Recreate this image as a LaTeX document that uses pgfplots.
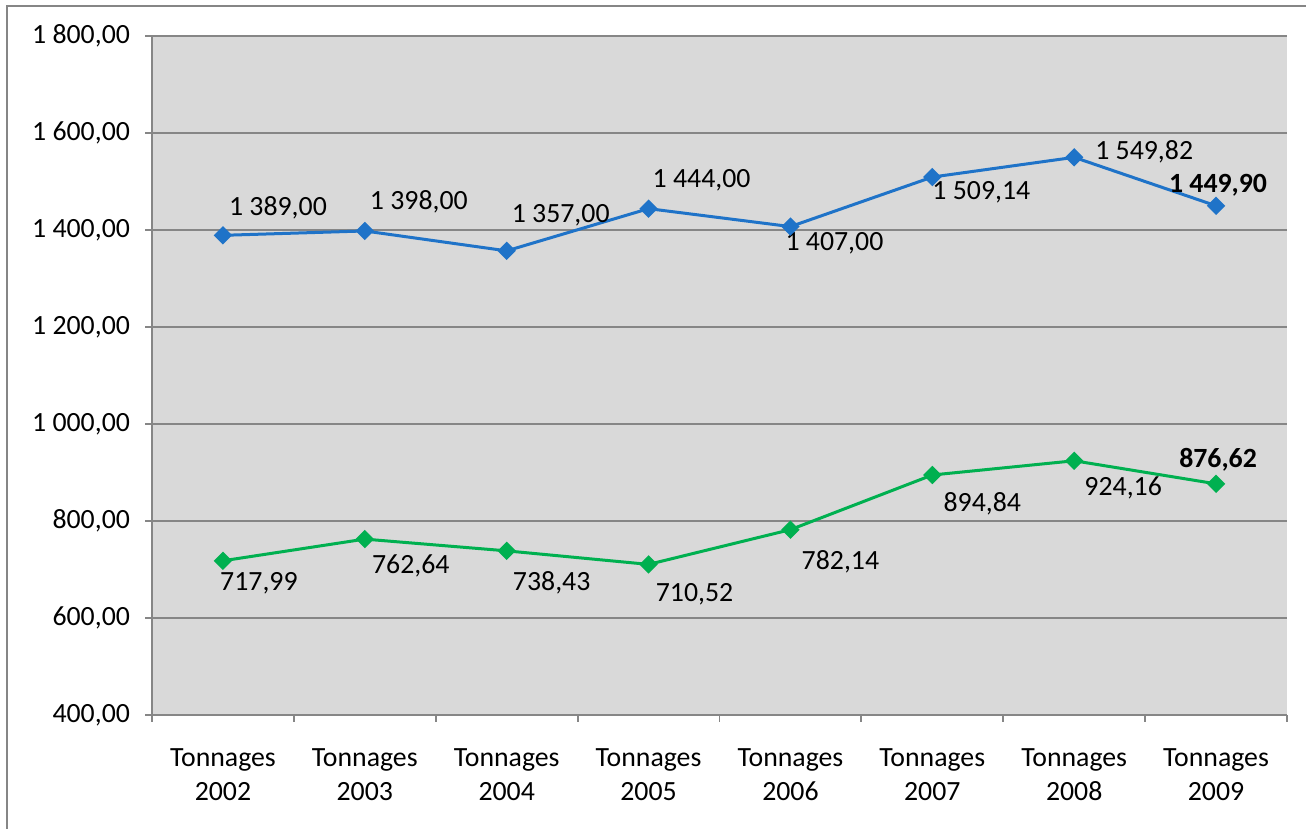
\documentclass[border=0pt]{standalone}
\usepackage{fontspec}
\setmainfont{Carlito}
\usepackage{pgfplots}
\pgfplotsset{compat=1.18}
\definecolor{bgray}{HTML}{D9D9D9}
\definecolor{lgray}{HTML}{868686}
\definecolor{sblue}{HTML}{1F73C8}
\definecolor{sgreen}{HTML}{00B050}
\newcommand{\fs}{\fontsize{13.9}{16.6}\selectfont}
\begin{document}
\begin{tikzpicture}[font=\fs]
\useasboundingbox (0,0) rectangle (653pt,414.5pt);
\draw[lgray, line width=1pt] (3.5pt,0) -- (3.5pt,411.5pt) -- (653pt,411.5pt);
\begin{axis}[
  at={(76pt,57pt)}, anchor=south west,
  scale only axis, width=567.5pt, height=339.5pt,
  xmin=-0.5, xmax=7.5, ymin=400, ymax=1800,
  axis background/.style={fill=bgray},
  axis x line*=bottom, axis y line*=left,
  axis line style={lgray, line width=0.9pt, -},
  xtick={0,...,7},
  xticklabels={{Tonnages\\2002},{Tonnages\\2003},{Tonnages\\2004},{Tonnages\\2005},{Tonnages\\2006},{Tonnages\\2007},{Tonnages\\2008},{Tonnages\\2009}},
  xticklabel style={align=center, font=\fs, yshift=-10pt},
  major x tick style={draw=none},
  minor xtick={-0.5,0.5,...,7.5},
  minor tick length=3.5pt,
  minor x tick style={lgray, line width=0.9pt},
  ytick={400,600,...,1800},
  yticklabels={{400,00},{600,00},{800,00},{1 000,00},{1 200,00},{1 400,00},{1 600,00},{1 800,00}},
  yticklabel style={font=\fs, xshift=-4pt},
  major tick length=3.5pt,
  tick align=outside,
  major y tick style={lgray, line width=0.9pt},
  ymajorgrids, grid style={lgray, line width=0.9pt},
  clip=false,
]
\addplot[sblue, line width=1.5pt, mark=square*, mark size=2.5pt, mark options={rotate=45, fill=sblue, draw=sblue}]
coordinates {(0,1389) (1,1398) (2,1357) (3,1444) (4,1407) (5,1509.14) (6,1549.82) (7,1449.90)};
\addplot[sgreen, line width=1.5pt, mark=square*, mark size=2.5pt, mark options={rotate=45, fill=sgreen, draw=sgreen}]
coordinates {(0,717.99) (1,762.64) (2,738.43) (3,710.52) (4,782.14) (5,894.84) (6,924.16) (7,876.62)};
% blue labels
\node at ([shift={(27.5pt,14pt)}]axis cs:0,1389) {1 389,00};
\node at ([shift={(27pt,14.5pt)}]axis cs:1,1398) {1 398,00};
\node at ([shift={(27pt,18pt)}]axis cs:2,1357) {1 357,00};
\node at ([shift={(26.5pt,14pt)}]axis cs:3,1444) {1 444,00};
\node at ([shift={(22pt,-8.5pt)}]axis cs:4,1407) {1 407,00};
\node at ([shift={(24.5pt,-7.5pt)}]axis cs:5,1509.14) {1 509,14};
\node at ([shift={(35pt,3pt)}]axis cs:6,1549.82) {1 549,82};
\node at ([shift={(1pt,10.5pt)}]axis cs:7,1449.90) {\bfseries 1 449,90};
% green labels
\node at ([shift={(18pt,-11pt)}]axis cs:0,717.99) {717,99};
\node at ([shift={(23pt,-13.5pt)}]axis cs:1,762.64) {762,64};
\node at ([shift={(22.5pt,-16pt)}]axis cs:2,738.43) {738,43};
\node at ([shift={(23pt,-15pt)}]axis cs:3,710.52) {710,52};
\node at ([shift={(25pt,-16pt)}]axis cs:4,782.14) {782,14};
\node at ([shift={(25pt,-14.5pt)}]axis cs:5,894.84) {894,84};
\node at ([shift={(24.5pt,-13.5pt)}]axis cs:6,924.16) {924,16};
\node at ([shift={(1pt,12pt)}]axis cs:7,876.62) {\bfseries 876,62};
\end{axis}
\end{tikzpicture}
\end{document}
